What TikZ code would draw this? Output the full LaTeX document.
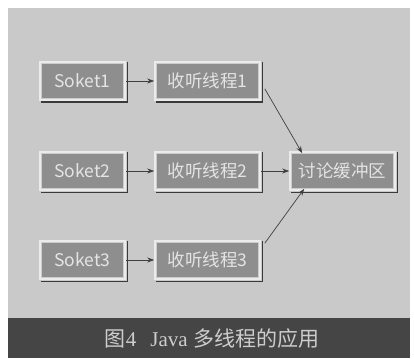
\documentclass[tikz,border=0pt]{standalone}
\usepackage{fontspec}
\setmainfont{Liberation Serif}
\newfontfamily\cjk{Noto Sans CJK SC}
\usetikzlibrary{arrows.meta}
\definecolor{bgray}{HTML}{C9C9C9}
\definecolor{boxgray}{HTML}{8E8E8E}
\definecolor{capgray}{HTML}{454545}
\definecolor{txtgray}{HTML}{E4E4E4}
\definecolor{shadowgray}{HTML}{3A3A3A}
\tikzset{
  boxnode/.style={draw=white!92!black, line width=1.6pt, fill=boxgray,
    minimum width=85pt, minimum height=38pt, inner sep=0pt,
    font=\cjk\fontsize{17.5}{17.5}\selectfont, text=txtgray},
  widebox/.style={boxnode, minimum width=105pt},
  link/.style={draw=black!75, line width=0.7pt, -{Stealth[length=7pt,width=5pt]}}
}
\newcommand{\bevel}[1]{%
  \draw[shadowgray, line width=1.6pt] ([xshift=2pt,yshift=-1.5pt]#1.south west) -- ([xshift=1.5pt,yshift=-1.5pt]#1.south east) -- ([xshift=1.5pt,yshift=-1pt]#1.north east);
  \draw[white!80!black, line width=0.5pt] ([xshift=2.5pt,yshift=-2.5pt]#1.north west) rectangle ([xshift=-2.5pt,yshift=2.5pt]#1.south east);
}
\begin{document}
\begin{tikzpicture}[x=1pt,y=-1pt]
\useasboundingbox (0,0) rectangle (414,358);
\fill[white] (0,0) rectangle (414,358);
\fill[bgray] (8,8) rectangle (410,318);
\fill[capgray] (8,318) rectangle (410,358);
\node[text=txtgray!90!black, font=\fontsize{21}{21}\selectfont] (cap) at (212,339)
  {{\cjk 图}4\hspace{14pt}Java {\cjk 多线程的应用}};

\node[boxnode] (s1) at (82.5,81) {Soket1};
\node[boxnode] (s2) at (82.5,171) {Soket2};
\node[boxnode] (s3) at (82.5,260) {Soket3};
\node[widebox] (t1) at (207.5,81) {收听线程1};
\node[widebox] (t2) at (207.5,171) {收听线程2};
\node[widebox] (t3) at (207.5,260) {收听线程3};
\node[widebox] (buf) at (342.5,171) {讨论缓冲区};
\foreach \n in {s1,s2,s3,t1,t2,t3,buf} {\bevel{\n}}

\draw[link] (s1) -- (t1);
\draw[link] (s2) -- (t2);
\draw[link] (s3) -- (t3);
\draw[link] (t2) -- (buf);
\draw[link] ([xshift=4pt,yshift=12pt]t1.south east) -- ([xshift=13pt,yshift=-2pt]buf.north west);
\draw[link] ([xshift=4pt,yshift=-3pt]t3.north east) -- ([xshift=15pt,yshift=2pt]buf.south west);
\end{tikzpicture}
\end{document}
